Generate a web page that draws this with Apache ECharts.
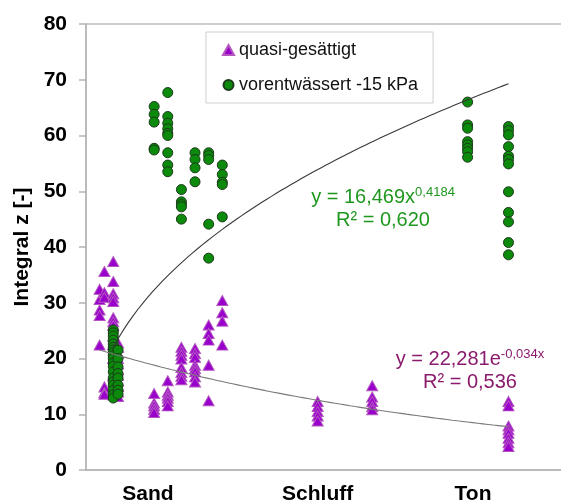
<!DOCTYPE html>
<html>
<head>
<meta charset="utf-8">
<script src="https://cdn.jsdelivr.net/npm/echarts@6/dist/echarts.min.js"></script>
<style>
html,body{margin:0;padding:0;background:#fff;}
#chart{width:561px;height:502px;}
</style>
</head>
<body>
<div id="chart"></div>
<script>
// x position of each measured column
const columnX = [1, 1.35, 2, 2.35, 5, 6, 7, 8, 9, 10, 17, 21, 28, 31];
// quasi-gesättigt values per column
const quasiValues = [
  [32.4, 30.6, 28.7, 27.7, 22.4],
  [35.6, 31.8, 31.0, 14.9, 13.9, 13.6],
  [37.4, 33.8, 31.6, 30.9, 30.2, 27.3, 26.6, 25.9, 24.0, 22.5, 20.0, 17.0, 14.5, 13.5],
  [22.8, 22.0, 21.0, 20.0, 19.0, 18.0, 17.0, 16.0, 15.0, 14.0, 13.2],
  [13.7, 12.0, 11.5, 10.9, 10.3],
  [16.0, 14.0, 13.4, 12.9, 12.3, 11.5],
  [22.0, 21.3, 20.6, 19.9, 18.4, 17.5, 16.8, 16.2],
  [21.8, 20.9, 20.2, 18.8, 18.2, 17.6, 16.7, 15.8],
  [26.0, 24.5, 23.3, 18.8, 12.4],
  [30.4, 28.2, 26.7, 22.4],
  [12.3, 11.4, 10.5, 9.7, 8.8],
  [15.1, 13.1, 12.3, 11.4, 10.8],
  [],
  [12.3, 11.5, 7.9, 7.2, 6.6, 5.7, 4.9, 4.2]
];
// vorentwässert -15 kPa values per column
const vorValues = [
  [],
  [],
  [25.1, 24.6, 24.0, 23.3, 22.6, 22.0, 21.5, 21.0, 20.5, 20.0, 19.2, 18.6, 17.6, 16.5, 15.8, 15.2, 14.3, 13.5, 12.9],
  [21.5, 20.0, 18.5, 17.3, 16.5, 15.2, 14.3, 13.6],
  [65.2, 63.8, 62.4, 57.7, 57.4],
  [67.7, 63.4, 62.2, 61.2, 60.4, 60.0, 56.9, 54.7, 53.5],
  [50.3, 48.1, 47.6, 47.2, 45.0],
  [56.9, 55.7, 54.2, 51.7],
  [56.9, 56.4, 55.7, 44.1, 38.0],
  [54.7, 53.0, 51.6, 51.2, 45.4],
  [],
  [],
  [66.0, 61.9, 61.3, 58.9, 58.3, 57.7, 57.1, 56.1],
  [61.6, 60.9, 60.1, 58.0, 56.3, 55.7, 54.9, 49.9, 46.2, 44.5, 40.8, 38.6]
];
// soil type labels and their x positions
const soilLabels = ['Sand', 'Schluff', 'Ton'];
const soilLabelX = [4.55, 17, 28.4];
// y axis ticks
const yTicks = [0, 10, 20, 30, 40, 50, 60, 70, 80];
// trendline coefficients shown in the chart
const powerFit = [16.469, 0.4184];   // y = a * x^b
const expFit = [22.281, -0.034];     // y = a * e^(b x)
const powerRange = [2, 31];
const expRange = [1, 31];

function pairs(valsByCol) {
  const out = [];
  valsByCol.forEach((vals, i) => vals.forEach(v => out.push([columnX[i], v])));
  return out;
}
function curve(fn, range) {
  const pts = [];
  const n = 80;
  for (let i = 0; i <= n; i++) {
    const x = range[0] + (range[1] - range[0]) * i / n;
    pts.push([x, fn(x)]);
  }
  return pts;
}
const powerLine = curve(x => powerFit[0] * Math.pow(x, powerFit[1]), powerRange);
const expLine = curve(x => expFit[0] * Math.exp(expFit[1] * x), expRange);

const FONT = '"Liberation Sans", Arial, sans-serif';
const chart = echarts.init(document.getElementById('chart'), null, {renderer: 'canvas'});
chart.setOption({
  animation: false,
  backgroundColor: '#fff',
  grid: {left: 86, right: -2, top: 24, bottom: 32, show: true, borderColor: '#bdbdbd', borderWidth: 1.5, backgroundColor: 'transparent', containLabel: false, outerBoundsMode: 'none'},
  xAxis: {
    type: 'value', min: 0, max: 35,
    axisLine: {show: true, lineStyle: {color: '#b4b4b4', width: 1.5}},
    axisTick: {show: false},
    splitLine: {show: false},
    axisLabel: {
      customValues: soilLabelX,
      formatter: v => { const i = soilLabelX.indexOf(v); return i >= 0 ? soilLabels[i] : ''; },
      fontFamily: FONT, fontWeight: 'bold', fontSize: 21, color: '#000', margin: 14
    }
  },
  yAxis: {
    type: 'value', min: yTicks[0], max: yTicks[yTicks.length - 1], interval: 10,
    axisLine: {show: true, lineStyle: {color: '#b4b4b4', width: 1.5}},
    axisTick: {show: true, inside: false, length: 7, lineStyle: {color: '#b4b4b4', width: 1.5}},
    splitLine: {show: false},
    axisLabel: {fontFamily: FONT, fontWeight: 'bold', fontSize: 21, color: '#000', margin: 19},
    name: 'Integral z [-]', nameLocation: 'middle', nameGap: 50, nameRotate: 90,
    nameTextStyle: {fontFamily: FONT, fontWeight: 'bold', fontSize: 21, color: '#000'}
  },
  legend: {
    orient: 'vertical', left: 206, top: 32,
    padding: [9, 15, 9, 16], itemGap: 17, itemWidth: 11, itemHeight: 10,
    backgroundColor: '#fff', borderColor: '#cfcfcf', borderWidth: 1, borderRadius: 0,
    textStyle: {fontFamily: FONT, fontSize: 18, color: '#111', lineHeight: 18},
    data: ['quasi-gesättigt', 'vorentwässert -15 kPa']
  },
  series: [
    {
      name: 'quasi-gesättigt', type: 'scatter', symbol: 'triangle', symbolSize: [11, 10],
      itemStyle: {color: '#9900cc', borderColor: '#b455c0', borderWidth: 1, opacity: 1},
      data: pairs(quasiValues), z: 2
    },
    {
      name: 'vorentwässert -15 kPa', type: 'scatter', symbol: 'circle', symbolSize: 10,
      itemStyle: {color: '#0b8a0b', borderColor: '#1c3a1c', borderWidth: 1, opacity: 1},
      data: pairs(vorValues), z: 3
    },
    {
      name: 'powerFit', type: 'line', data: powerLine, showSymbol: false, smooth: false,
      lineStyle: {color: '#3a3a3a', width: 1.1}, z: 4, silent: true
    },
    {
      name: 'expFit', type: 'line', data: expLine, showSymbol: false, smooth: false,
      lineStyle: {color: '#7a7a7a', width: 1.1}, z: 4, silent: true
    }
  ],
  graphic: [
    {
      type: 'text', x: 383, y: 209, z: 10,
      style: {
        text: '{t|y = 16,469x}{s|0,4184}\n{t|R² = 0,620}',
        align: 'center', verticalAlign: 'middle',
        rich: {
          t: {fontFamily: FONT, fontSize: 20, fill: '#1f981f', lineHeight: 23},
          s: {fontFamily: FONT, fontSize: 13, fill: '#1f981f', lineHeight: 23, verticalAlign: 'top'}
        }
      }
    },
    {
      type: 'text', x: 470, y: 371, z: 10,
      style: {
        text: '{t|y = 22,281e}{s|-0,034x}\n{t|R² = 0,536}',
        align: 'center', verticalAlign: 'middle',
        rich: {
          t: {fontFamily: FONT, fontSize: 20, fill: '#8a1a6c', lineHeight: 23},
          s: {fontFamily: FONT, fontSize: 13, fill: '#8a1a6c', lineHeight: 23, verticalAlign: 'top'}
        }
      }
    }
  ]
});
</script>
</body>
</html>
